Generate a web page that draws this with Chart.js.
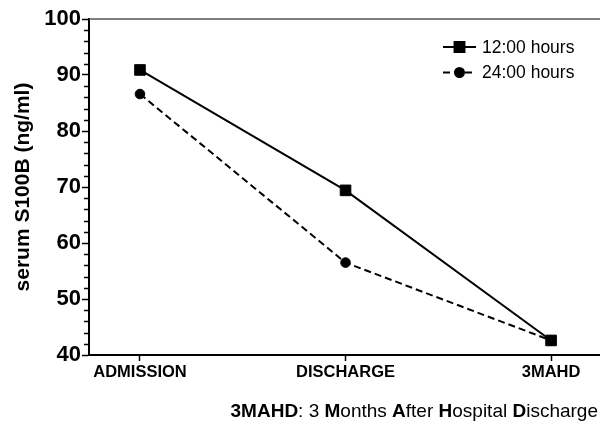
<!DOCTYPE html>
<html>
<head>
<meta charset="utf-8">
<script src="https://cdn.jsdelivr.net/npm/chart.js@4.4.0/dist/chart.umd.min.js"></script>
<style>
  html, body { margin: 0; padding: 0; background: #fff; }
  #wrap { position: relative; width: 600px; height: 421px; }
</style>
</head>
<body>
<div id="wrap"><canvas id="c" width="600" height="421"></canvas></div>
<script>
const categories = ['ADMISSION', 'DISCHARGE', '3MAHD'];
const seriesNames = ['12:00 hours', '24:00 hours'];
const values12h = [90.9, 69.4, 42.6];
const values24h = [86.6, 56.5, 42.6];
const yTicks = [40, 50, 60, 70, 80, 90, 100];
const yMinorStep = 2;
const yTitle = 'serum S100B (ng/ml)';
const footnoteParts = [
  ['3MAHD', true], [': 3 ', false], ['M', true], ['onths ', false],
  ['A', true], ['fter ', false], ['H', true], ['ospital ', false],
  ['D', true], ['ischarge', false]
];

const FONT = "'Liberation Sans', Arial, Helvetica, sans-serif";

const toPoints = arr => arr.map((v, i) => ({ x: i, y: v }));

const extras = {
  id: 'extras',
  afterDraw(chart) {
    const ctx = chart.ctx;
    const ca = chart.chartArea;
    const y = chart.scales.y;
    ctx.save();
    // top frame line
    ctx.strokeStyle = '#555';
    ctx.lineWidth = 1.5;
    ctx.beginPath();
    ctx.moveTo(ca.left, ca.top);
    ctx.lineTo(chart.width, ca.top);
    ctx.stroke();
    // minor ticks
    ctx.strokeStyle = '#000';
    ctx.lineWidth = 1.5;
    for (let v = y.min; v <= y.max; v += yMinorStep) {
      if (yTicks.includes(v)) continue;
      const py = Math.round(y.getPixelForValue(v)) + 0.5;
      ctx.beginPath();
      ctx.moveTo(ca.left - 5, py);
      ctx.lineTo(ca.left, py);
      ctx.stroke();
    }
    // legend
    const ds = chart.data.datasets;
    const lx0 = 443, lx1 = 476, tx = 482;
    const rows = [47, 72.5];
    ds.forEach((d, i) => {
      const ry = rows[i];
      ctx.strokeStyle = '#000';
      ctx.lineWidth = 2;
      ctx.setLineDash(d.borderDash || []);
      ctx.beginPath();
      ctx.moveTo(lx0, ry);
      ctx.lineTo(lx1, ry);
      ctx.stroke();
      ctx.setLineDash([]);
      ctx.fillStyle = '#000';
      Chart.helpers.drawPoint(ctx, {
        pointStyle: d.pointStyle,
        radius: d.legendRadius,
        borderWidth: 1
      }, (lx0 + lx1) / 2, ry);
      ctx.fill();
      ctx.fillStyle = '#000';
      ctx.font = '17.5px ' + FONT;
      ctx.textBaseline = 'middle';
      ctx.textAlign = 'left';
      ctx.fillText(d.label, tx, ry + 1);
    });
    // footnote
    ctx.textBaseline = 'alphabetic';
    const fsz = '19px ';
    let total = 0;
    footnoteParts.forEach(([t, b]) => {
      ctx.font = (b ? 'bold ' : '') + fsz + FONT;
      total += ctx.measureText(t).width;
    });
    let x = 598 - total;
    footnoteParts.forEach(([t, b]) => {
      ctx.font = (b ? 'bold ' : '') + fsz + FONT;
      ctx.fillText(t, x, 417);
      x += ctx.measureText(t).width;
    });
    ctx.restore();
  }
};

new Chart(document.getElementById('c'), {
  type: 'line',
  data: {
    datasets: [
      {
        label: seriesNames[0],
        data: toPoints(values12h),
        borderColor: '#000',
        backgroundColor: '#000',
        borderWidth: 2,
        pointStyle: 'rect',
        pointRadius: 7.5,
        legendRadius: 7,
        pointBorderWidth: 1,
        tension: 0
      },
      {
        label: seriesNames[1],
        data: toPoints(values24h),
        borderColor: '#000',
        backgroundColor: '#000',
        borderWidth: 2,
        borderDash: [7, 4],
        pointStyle: 'circle',
        pointRadius: 4.8,
        legendRadius: 4.5,
        pointBorderWidth: 1,
        tension: 0
      }
    ]
  },
  options: {
    responsive: false,
    animation: false,
    devicePixelRatio: 1,
    layout: { autoPadding: false, padding: { top: 19, right: 0, bottom: 30, left: 0 } },
    plugins: {
      legend: { display: false },
      tooltip: { enabled: false }
    },
    scales: {
      x: {
        type: 'linear',
        min: -0.248,
        max: 2.238,
        afterBuildTicks: s => { s.ticks = categories.map((c, i) => ({ value: i })); },
        afterFit: s => { s.height = 36; s.paddingLeft = 0; s.paddingRight = 0; },
        ticks: {
          callback: v => categories[v],
          color: '#000',
          font: { family: FONT, size: 16.5, weight: 'bold' },
          padding: 2,
          maxRotation: 0,
          autoSkip: false
        },
        grid: { drawOnChartArea: false, tickLength: 6, tickWidth: 1.5, tickColor: '#000' },
        border: { color: '#000', width: 2 }
      },
      y: {
        min: 40,
        max: 100,
        afterBuildTicks: s => { s.ticks = yTicks.map(v => ({ value: v })); },
        afterFit: s => { s.width = 89; s.paddingTop = 0; s.paddingBottom = 0; },
        ticks: {
          color: '#000',
          font: { family: FONT, size: 22, weight: 'bold' },
          padding: 1
        },
        grid: { drawOnChartArea: false, tickLength: 7, tickWidth: 1.5, tickColor: '#000' },
        border: { color: '#000', width: 2 },
        title: {
          display: true,
          text: yTitle,
          color: '#000',
          font: { family: FONT, size: 21, weight: 'bold' },
          padding: { top: 11, bottom: 0 }
        }
      }
    }
  },
  plugins: [extras]
});
</script>
</body>
</html>
